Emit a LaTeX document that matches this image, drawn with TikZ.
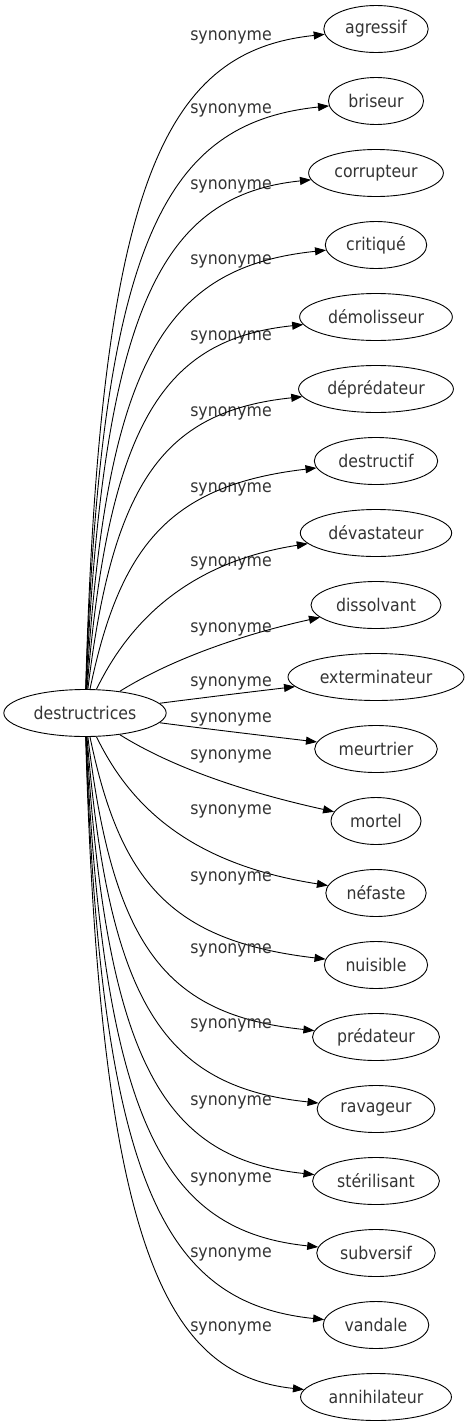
\documentclass[tikz,border=0pt]{standalone}
\usepackage{fontspec}
\setmainfont[FakeStretch=0.9]{DejaVu Sans}
\usetikzlibrary{arrows.meta,shapes.geometric}
\begin{document}
\begin{tikzpicture}[x=1pt,y=-1pt,
  word/.style={ellipse,draw,line width=0.9pt,minimum height=47pt,inner xsep=6pt,inner ysep=0pt,
    font=\fontsize{17.5}{20}\selectfont,text=black!80},
  lab/.style={font=\fontsize{17.5}{20}\selectfont,text=black!80,inner sep=0pt},
  link/.style={line width=0.9pt,-{Triangle[length=11pt,width=8pt]}}]
\useasboundingbox (0,0) rectangle (467,1427);
\node[word] (src) at (85,713) {destructrices};
\foreach \i/\w/\yt/\ax/\ay/\bx/\by/\ly in {
  0/agressif/29/100/180/165/51/37,
  1/briseur/101/101/240/165/123/110,
  2/corrupteur/173/103/300/165/195/186,
  3/critiqué/245/106/360/165/267/261,
  4/démolisseur/317/109/420/165/339/337,
  5/déprédateur/389/113/480/165/411/413,
  6/destructif/461/120/545/170/485/489,
  7/dévastateur/533/130/620/190/562/563,
  8/dissolvant/605/170/660/240/635/629,
  9/exterminateur/677/200/698/250/692/683,
  10/meurtrier/749/200/728/250/734/719,
  11/mortel/821/170/766/240/791/756,
  12/néfaste/893/130/806/190/864/811,
  13/nuisible/965/120/881/170/941/878,
  14/prédateur/1037/113/946/165/1015/950,
  15/ravageur/1109/109/1006/165/1087/1025,
  16/stérilisant/1181/106/1066/165/1159/1102,
  17/subversif/1253/103/1126/165/1231/1179,
  18/vandale/1325/101/1186/165/1303/1254,
  19/annihilateur/1397/100/1246/165/1375/1328} {
  \node[word] (t\i) at (376,\yt) {\w};
  \node[lab] (l\i) at (231,\ly) {synonyme};
  \draw[link] (src) .. controls (\ax,\ay) and (\bx,\by) .. (t\i);
}
\end{tikzpicture}
\end{document}
